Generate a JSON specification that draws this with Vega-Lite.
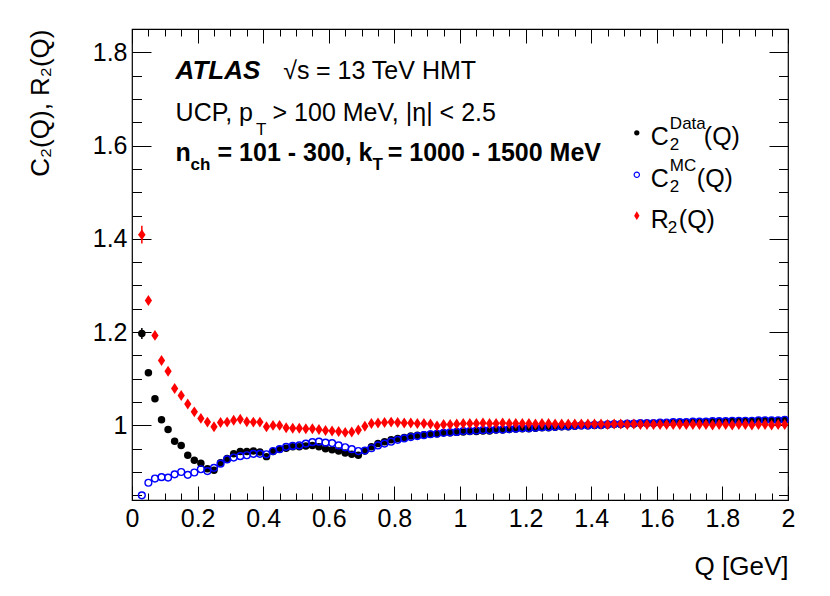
{
  "$schema": "https://vega.github.io/schema/vega-lite/v6.json",
  "width": 656,
  "height": 471,
  "autosize": {"type": "none"},
  "padding": {"left": 132, "top": 29, "right": 42, "bottom": 96},
  "background": "white",
  "config": {
    "view": {"stroke": "black", "strokeWidth": 1.2},
    "axis": {
      "domain": false, "grid": false, "tickColor": "black", "tickWidth": 1,
      "labelFont": "Liberation Sans", "labelFontSize": 25, "labelColor": "black",
      "labelFlush": false, "labelOverlap": false,
      "titleFont": "Liberation Sans", "titleFontSize": 26, "titleFontWeight": "normal", "titleColor": "black"
    }
  },
  "datasets": {
    "pts": [
      {"set":"data","Q":0.03,"val":1.197},{"set":"data","Q":0.05,"val":1.113},{"set":"data","Q":0.07,"val":1.057},{"set":"data","Q":0.09,"val":1.012},
      {"set":"data","Q":0.11,"val":0.991},{"set":"data","Q":0.13,"val":0.966},{"set":"data","Q":0.15,"val":0.957},{"set":"data","Q":0.17,"val":0.936},
      {"set":"data","Q":0.19,"val":0.925},{"set":"data","Q":0.21,"val":0.919},{"set":"data","Q":0.23,"val":0.907},{"set":"data","Q":0.25,"val":0.904},
      {"set":"data","Q":0.27,"val":0.920},{"set":"data","Q":0.29,"val":0.929},{"set":"data","Q":0.31,"val":0.939},{"set":"data","Q":0.33,"val":0.944},
      {"set":"data","Q":0.35,"val":0.944},{"set":"data","Q":0.37,"val":0.945},{"set":"data","Q":0.39,"val":0.943},{"set":"data","Q":0.41,"val":0.933},
      {"set":"data","Q":0.43,"val":0.944},{"set":"data","Q":0.45,"val":0.949},{"set":"data","Q":0.47,"val":0.951},{"set":"data","Q":0.49,"val":0.954},
      {"set":"data","Q":0.51,"val":0.954},{"set":"data","Q":0.53,"val":0.956},{"set":"data","Q":0.55,"val":0.957},{"set":"data","Q":0.57,"val":0.954},
      {"set":"data","Q":0.59,"val":0.950},{"set":"data","Q":0.61,"val":0.948},{"set":"data","Q":0.63,"val":0.945},{"set":"data","Q":0.65,"val":0.941},
      {"set":"data","Q":0.67,"val":0.938},{"set":"data","Q":0.69,"val":0.936},{"set":"data","Q":0.71,"val":0.945},{"set":"data","Q":0.73,"val":0.954},
      {"set":"data","Q":0.75,"val":0.961},{"set":"data","Q":0.77,"val":0.965},{"set":"data","Q":0.79,"val":0.969},{"set":"data","Q":0.81,"val":0.972},
      {"set":"data","Q":0.83,"val":0.974},{"set":"data","Q":0.85,"val":0.977},{"set":"data","Q":0.87,"val":0.979},{"set":"data","Q":0.89,"val":0.980},
      {"set":"data","Q":0.91,"val":0.981},{"set":"data","Q":0.93,"val":0.982},{"set":"data","Q":0.95,"val":0.984},{"set":"data","Q":0.97,"val":0.984},
      {"set":"data","Q":0.99,"val":0.985},{"set":"data","Q":1.01,"val":0.986},{"set":"data","Q":1.03,"val":0.987},{"set":"data","Q":1.05,"val":0.987},
      {"set":"data","Q":1.07,"val":0.988},{"set":"data","Q":1.09,"val":0.988},{"set":"data","Q":1.11,"val":0.990},{"set":"data","Q":1.13,"val":0.990},
      {"set":"data","Q":1.15,"val":0.991},{"set":"data","Q":1.17,"val":0.992},{"set":"data","Q":1.19,"val":0.993},{"set":"data","Q":1.21,"val":0.993},
      {"set":"data","Q":1.23,"val":0.994},{"set":"data","Q":1.25,"val":0.995},{"set":"data","Q":1.27,"val":0.995},{"set":"data","Q":1.29,"val":0.996},
      {"set":"data","Q":1.31,"val":0.997},{"set":"data","Q":1.33,"val":0.997},{"set":"data","Q":1.35,"val":0.998},{"set":"data","Q":1.37,"val":0.999},
      {"set":"data","Q":1.39,"val":0.999},{"set":"data","Q":1.41,"val":1.000},{"set":"data","Q":1.43,"val":1.000},{"set":"data","Q":1.45,"val":1.001},
      {"set":"data","Q":1.47,"val":1.002},{"set":"data","Q":1.49,"val":1.002},{"set":"data","Q":1.51,"val":1.003},{"set":"data","Q":1.53,"val":1.003},
      {"set":"data","Q":1.55,"val":1.004},{"set":"data","Q":1.57,"val":1.004},{"set":"data","Q":1.59,"val":1.004},{"set":"data","Q":1.61,"val":1.005},
      {"set":"data","Q":1.63,"val":1.005},{"set":"data","Q":1.65,"val":1.006},{"set":"data","Q":1.67,"val":1.006},{"set":"data","Q":1.69,"val":1.006},
      {"set":"data","Q":1.71,"val":1.007},{"set":"data","Q":1.73,"val":1.007},{"set":"data","Q":1.75,"val":1.007},{"set":"data","Q":1.77,"val":1.008},
      {"set":"data","Q":1.79,"val":1.008},{"set":"data","Q":1.81,"val":1.008},{"set":"data","Q":1.83,"val":1.009},{"set":"data","Q":1.85,"val":1.009},
      {"set":"data","Q":1.87,"val":1.009},{"set":"data","Q":1.89,"val":1.009},{"set":"data","Q":1.91,"val":1.010},{"set":"data","Q":1.93,"val":1.010},
      {"set":"data","Q":1.95,"val":1.010},{"set":"data","Q":1.97,"val":1.010},{"set":"data","Q":1.99,"val":1.011},

      {"set":"mc","Q":0.03,"val":0.850},{"set":"mc","Q":0.05,"val":0.877},{"set":"mc","Q":0.07,"val":0.886},{"set":"mc","Q":0.09,"val":0.889},
      {"set":"mc","Q":0.11,"val":0.888},{"set":"mc","Q":0.13,"val":0.895},{"set":"mc","Q":0.15,"val":0.900},{"set":"mc","Q":0.17,"val":0.894},
      {"set":"mc","Q":0.19,"val":0.899},{"set":"mc","Q":0.21,"val":0.906},{"set":"mc","Q":0.23,"val":0.902},{"set":"mc","Q":0.25,"val":0.909},
      {"set":"mc","Q":0.27,"val":0.918},{"set":"mc","Q":0.29,"val":0.927},{"set":"mc","Q":0.31,"val":0.931},{"set":"mc","Q":0.33,"val":0.934},
      {"set":"mc","Q":0.35,"val":0.936},{"set":"mc","Q":0.37,"val":0.939},{"set":"mc","Q":0.39,"val":0.939},{"set":"mc","Q":0.41,"val":0.938},
      {"set":"mc","Q":0.43,"val":0.945},{"set":"mc","Q":0.45,"val":0.949},{"set":"mc","Q":0.47,"val":0.954},{"set":"mc","Q":0.49,"val":0.956},
      {"set":"mc","Q":0.51,"val":0.957},{"set":"mc","Q":0.53,"val":0.961},{"set":"mc","Q":0.55,"val":0.964},{"set":"mc","Q":0.57,"val":0.965},
      {"set":"mc","Q":0.59,"val":0.963},{"set":"mc","Q":0.61,"val":0.962},{"set":"mc","Q":0.63,"val":0.957},{"set":"mc","Q":0.65,"val":0.953},
      {"set":"mc","Q":0.67,"val":0.949},{"set":"mc","Q":0.69,"val":0.945},{"set":"mc","Q":0.71,"val":0.946},{"set":"mc","Q":0.73,"val":0.951},
      {"set":"mc","Q":0.75,"val":0.957},{"set":"mc","Q":0.77,"val":0.961},{"set":"mc","Q":0.79,"val":0.965},{"set":"mc","Q":0.81,"val":0.969},
      {"set":"mc","Q":0.83,"val":0.972},{"set":"mc","Q":0.85,"val":0.975},{"set":"mc","Q":0.87,"val":0.977},{"set":"mc","Q":0.89,"val":0.979},
      {"set":"mc","Q":0.91,"val":0.981},{"set":"mc","Q":0.93,"val":0.982},{"set":"mc","Q":0.95,"val":0.984},{"set":"mc","Q":0.97,"val":0.985},
      {"set":"mc","Q":0.99,"val":0.986},{"set":"mc","Q":1.01,"val":0.988},{"set":"mc","Q":1.03,"val":0.988},{"set":"mc","Q":1.05,"val":0.989},
      {"set":"mc","Q":1.07,"val":0.990},{"set":"mc","Q":1.09,"val":0.990},{"set":"mc","Q":1.11,"val":0.991},{"set":"mc","Q":1.13,"val":0.991},
      {"set":"mc","Q":1.15,"val":0.992},{"set":"mc","Q":1.17,"val":0.993},{"set":"mc","Q":1.19,"val":0.994},{"set":"mc","Q":1.21,"val":0.994},
      {"set":"mc","Q":1.23,"val":0.995},{"set":"mc","Q":1.25,"val":0.996},{"set":"mc","Q":1.27,"val":0.996},{"set":"mc","Q":1.29,"val":0.997},
      {"set":"mc","Q":1.31,"val":0.998},{"set":"mc","Q":1.33,"val":0.998},{"set":"mc","Q":1.35,"val":0.999},{"set":"mc","Q":1.37,"val":1.000},
      {"set":"mc","Q":1.39,"val":1.000},{"set":"mc","Q":1.41,"val":1.001},{"set":"mc","Q":1.43,"val":1.001},{"set":"mc","Q":1.45,"val":1.002},
      {"set":"mc","Q":1.47,"val":1.003},{"set":"mc","Q":1.49,"val":1.003},{"set":"mc","Q":1.51,"val":1.004},{"set":"mc","Q":1.53,"val":1.004},
      {"set":"mc","Q":1.55,"val":1.005},{"set":"mc","Q":1.57,"val":1.005},{"set":"mc","Q":1.59,"val":1.005},{"set":"mc","Q":1.61,"val":1.006},
      {"set":"mc","Q":1.63,"val":1.006},{"set":"mc","Q":1.65,"val":1.007},{"set":"mc","Q":1.67,"val":1.007},{"set":"mc","Q":1.69,"val":1.007},
      {"set":"mc","Q":1.71,"val":1.008},{"set":"mc","Q":1.73,"val":1.008},{"set":"mc","Q":1.75,"val":1.008},{"set":"mc","Q":1.77,"val":1.009},
      {"set":"mc","Q":1.79,"val":1.009},{"set":"mc","Q":1.81,"val":1.009},{"set":"mc","Q":1.83,"val":1.010},{"set":"mc","Q":1.85,"val":1.010},
      {"set":"mc","Q":1.87,"val":1.010},{"set":"mc","Q":1.89,"val":1.010},{"set":"mc","Q":1.91,"val":1.011},{"set":"mc","Q":1.93,"val":1.011},
      {"set":"mc","Q":1.95,"val":1.011},{"set":"mc","Q":1.97,"val":1.011},{"set":"mc","Q":1.99,"val":1.012},

      {"set":"r2","Q":0.03,"val":1.409},{"set":"r2","Q":0.05,"val":1.268},{"set":"r2","Q":0.07,"val":1.193},{"set":"r2","Q":0.09,"val":1.139},
      {"set":"r2","Q":0.11,"val":1.116},{"set":"r2","Q":0.13,"val":1.079},{"set":"r2","Q":0.15,"val":1.064},{"set":"r2","Q":0.17,"val":1.046},
      {"set":"r2","Q":0.19,"val":1.029},{"set":"r2","Q":0.21,"val":1.015},{"set":"r2","Q":0.23,"val":1.007},{"set":"r2","Q":0.25,"val":0.997},
      {"set":"r2","Q":0.27,"val":1.006},{"set":"r2","Q":0.29,"val":1.007},{"set":"r2","Q":0.31,"val":1.011},{"set":"r2","Q":0.33,"val":1.013},
      {"set":"r2","Q":0.35,"val":1.008},{"set":"r2","Q":0.37,"val":1.007},{"set":"r2","Q":0.39,"val":1.007},{"set":"r2","Q":0.41,"val":0.997},
      {"set":"r2","Q":0.43,"val":1.000},{"set":"r2","Q":0.45,"val":1.000},{"set":"r2","Q":0.47,"val":0.995},{"set":"r2","Q":0.49,"val":0.994},
      {"set":"r2","Q":0.51,"val":0.994},{"set":"r2","Q":0.53,"val":0.993},{"set":"r2","Q":0.55,"val":0.993},{"set":"r2","Q":0.57,"val":0.991},
      {"set":"r2","Q":0.59,"val":0.989},{"set":"r2","Q":0.61,"val":0.988},{"set":"r2","Q":0.63,"val":0.987},{"set":"r2","Q":0.65,"val":0.985},
      {"set":"r2","Q":0.67,"val":0.986},{"set":"r2","Q":0.69,"val":0.990},{"set":"r2","Q":0.71,"val":0.998},{"set":"r2","Q":0.73,"val":1.004},
      {"set":"r2","Q":0.75,"val":1.005},{"set":"r2","Q":0.77,"val":1.006},{"set":"r2","Q":0.79,"val":1.007},{"set":"r2","Q":0.81,"val":1.006},
      {"set":"r2","Q":0.83,"val":1.005},{"set":"r2","Q":0.85,"val":1.005},{"set":"r2","Q":0.87,"val":1.004},{"set":"r2","Q":0.89,"val":1.004},
      {"set":"r2","Q":0.91,"val":1.003},{"set":"r2","Q":0.93,"val":0.999},{"set":"r2","Q":0.95,"val":1.002},{"set":"r2","Q":0.97,"val":1.002},
      {"set":"r2","Q":0.99,"val":1.003},{"set":"r2","Q":1.01,"val":1.004},{"set":"r2","Q":1.03,"val":1.004},{"set":"r2","Q":1.05,"val":1.004},
      {"set":"r2","Q":1.07,"val":1.005},{"set":"r2","Q":1.09,"val":1.004},{"set":"r2","Q":1.11,"val":1.004},{"set":"r2","Q":1.13,"val":1.005},
      {"set":"r2","Q":1.15,"val":1.004},{"set":"r2","Q":1.17,"val":1.004},{"set":"r2","Q":1.19,"val":1.004},{"set":"r2","Q":1.21,"val":1.004},
      {"set":"r2","Q":1.23,"val":1.003},{"set":"r2","Q":1.25,"val":1.004},{"set":"r2","Q":1.27,"val":1.004},{"set":"r2","Q":1.29,"val":1.003},
      {"set":"r2","Q":1.31,"val":1.003},{"set":"r2","Q":1.33,"val":1.003},{"set":"r2","Q":1.35,"val":1.003},{"set":"r2","Q":1.37,"val":1.003},
      {"set":"r2","Q":1.39,"val":1.003},{"set":"r2","Q":1.41,"val":1.003},{"set":"r2","Q":1.43,"val":1.003},{"set":"r2","Q":1.45,"val":1.002},
      {"set":"r2","Q":1.47,"val":1.003},{"set":"r2","Q":1.49,"val":1.003},{"set":"r2","Q":1.51,"val":1.002},{"set":"r2","Q":1.53,"val":1.003},
      {"set":"r2","Q":1.55,"val":1.002},{"set":"r2","Q":1.57,"val":1.002},{"set":"r2","Q":1.59,"val":1.002},{"set":"r2","Q":1.61,"val":1.002},
      {"set":"r2","Q":1.63,"val":1.002},{"set":"r2","Q":1.65,"val":1.002},{"set":"r2","Q":1.67,"val":1.002},{"set":"r2","Q":1.69,"val":1.002},
      {"set":"r2","Q":1.71,"val":1.002},{"set":"r2","Q":1.73,"val":1.002},{"set":"r2","Q":1.75,"val":1.002},{"set":"r2","Q":1.77,"val":1.001},
      {"set":"r2","Q":1.79,"val":1.002},{"set":"r2","Q":1.81,"val":1.002},{"set":"r2","Q":1.83,"val":1.001},{"set":"r2","Q":1.85,"val":1.002},
      {"set":"r2","Q":1.87,"val":1.002},{"set":"r2","Q":1.89,"val":1.001},{"set":"r2","Q":1.91,"val":1.002},{"set":"r2","Q":1.93,"val":1.002},
      {"set":"r2","Q":1.95,"val":1.001},{"set":"r2","Q":1.97,"val":1.002},{"set":"r2","Q":1.99,"val":1.002}
    ],
    "errs": [
      {"set":"data","Q":0.03,"val":1.197,"err":0.012,"dq":0.01},
      {"set":"r2","Q":0.03,"val":1.409,"err":0.019,"dq":0.01}
    ],
    "leg": [
      {"set":"data","x":1.539,"y":1.6274},
      {"set":"mc","x":1.539,"y":1.5375},
      {"set":"r2","x":1.539,"y":1.4497}
    ],
    "txtAtlas": [{"x":0.133,"y":1.743,"t":"ATLAS"}],
    "txtMain": [
      {"x":0.461,"y":1.743,"t":"√s"},
      {"x":0.561,"y":1.743,"t":"= 13 TeV HMT"},
      {"x":0.133,"y":1.6531,"t":"UCP, p"},
      {"x":0.4285,"y":1.6531,"t":"> 100 MeV, |η| < 2.5"},
      {"x":1.5818,"y":1.6017,"t":"C"},
      {"x":1.7434,"y":1.6017,"t":"(Q)"},
      {"x":1.5818,"y":1.5118,"t":"C"},
      {"x":1.7221,"y":1.5118,"t":"(Q)"},
      {"x":1.5818,"y":1.424,"t":"R"},
      {"x":1.6672,"y":1.424,"t":"(Q)"}
    ],
    "txtSmall": [
      {"x":0.378,"y":1.6231,"t":"T"},
      {"x":1.6398,"y":1.636,"t":"Data"},
      {"x":1.6398,"y":1.5895,"t":"2"},
      {"x":1.6398,"y":1.546,"t":"MC"},
      {"x":1.6398,"y":1.4996,"t":"2"},
      {"x":1.6336,"y":1.4118,"t":"2"}
    ],
    "txtBold": [
      {"x":0.133,"y":1.5675,"t":"n"},
      {"x":0.2608,"y":1.5675,"t":"= 101 - 300, k"},
      {"x":0.7795,"y":1.5675,"t":"= 1000 - 1500 MeV"}
    ],
    "txtBoldSmall": [
      {"x":0.1785,"y":1.5471,"t":"ch"},
      {"x":0.7333,"y":1.5471,"t":"T"}
    ]
  },
  "layer": [
    {
      "data": {"name": "errs"},
      "mark": {"type": "errorbar", "thickness": 1.5},
      "encoding": {
        "x": {"field": "Q", "type": "quantitative", "scale": {"domain": [0, 2], "nice": false, "zero": false},
              "axis": {"orient": "top", "values": [0.05,0.1,0.15,0.25,0.3,0.35,0.45,0.5,0.55,0.65,0.7,0.75,0.85,0.9,0.95,1.05,1.1,1.15,1.25,1.3,1.35,1.45,1.5,1.55,1.65,1.7,1.75,1.85,1.9,1.95], "tickSize": -7, "labels": false, "title": null}},
        "y": {"field": "val", "type": "quantitative", "scale": {"domain": [0.84, 1.85], "nice": false, "zero": false},
              "axis": {"orient": "right", "values": [0.85,0.9,0.95,1.05,1.1,1.15,1.25,1.3,1.35,1.45,1.5,1.55,1.65,1.7,1.75,1.85], "tickSize": -9.5, "labels": false, "title": null}},
        "yError": {"field": "err"},
        "color": {"field": "set", "type": "nominal", "scale": {"domain": ["data", "mc", "r2"], "range": ["#000000", "#0000ff", "#ff0000"]}, "legend": null}
      }
    },
    {
      "data": {"name": "errs"},
      "mark": {"type": "errorbar", "thickness": 1.5},
      "encoding": {
        "x": {"field": "Q", "type": "quantitative", "axis": null},
        "xError": {"field": "dq"},
        "y": {"field": "val", "type": "quantitative", "axis": null},
        "color": {"field": "set", "type": "nominal", "legend": null}
      }
    },
    {
      "data": {"name": "pts"},
      "transform": [{"filter": "datum.set == 'data'"}],
      "mark": {"type": "point", "shape": "circle", "filled": true, "color": "#000000", "size": 56, "opacity": 1},
      "encoding": {
        "x": {"field": "Q", "type": "quantitative", "scale": {"domain": [0, 2], "nice": false, "zero": false},
              "axis": {"orient": "bottom", "values": [0,0.2,0.4,0.6,0.8,1,1.2,1.4,1.6,1.8,2], "format": "~g", "tickSize": -14, "labelPadding": 20,
                       "title": "Q [GeV]", "titleAnchor": "end", "titleAlign": "right", "titleX": 656, "titleY": 74, "titleBaseline": "alphabetic"}},
        "y": {"field": "val", "type": "quantitative", "scale": {"domain": [0.84, 1.85], "nice": false, "zero": false},
              "axis": {"orient": "left", "values": [1,1.2,1.4,1.6,1.8], "format": "~g", "tickSize": -19, "labelPadding": 24,
                       "title": "C₂(Q), R₂(Q)", "titleAngle": -90, "titleAnchor": "end", "titleAlign": "right", "titleX": -84, "titleY": 0, "titleBaseline": "alphabetic"}}
      }
    },
    {
      "data": {"name": "pts"},
      "transform": [{"filter": "datum.set == 'mc'"}],
      "mark": {"type": "point", "shape": "circle", "filled": false, "color": "#0000ff", "size": 46, "strokeWidth": 1.4, "opacity": 1},
      "encoding": {
        "x": {"field": "Q", "type": "quantitative",
              "axis": {"orient": "bottom", "values": [0.05,0.1,0.15,0.25,0.3,0.35,0.45,0.5,0.55,0.65,0.7,0.75,0.85,0.9,0.95,1.05,1.1,1.15,1.25,1.3,1.35,1.45,1.5,1.55,1.65,1.7,1.75,1.85,1.9,1.95], "tickSize": -7, "labels": false, "title": null}},
        "y": {"field": "val", "type": "quantitative",
              "axis": {"orient": "left", "values": [0.85,0.9,0.95,1.05,1.1,1.15,1.25,1.3,1.35,1.45,1.5,1.55,1.65,1.7,1.75,1.85], "tickSize": -9.5, "labels": false, "title": null}}
      }
    },
    {
      "data": {"name": "pts"},
      "transform": [{"filter": "datum.set == 'r2'"}],
      "mark": {"type": "point", "shape": "M0,-1L0.66,0L0,1L-0.66,0Z", "filled": true, "color": "#ff0000", "size": 120, "opacity": 1},
      "encoding": {
        "x": {"field": "Q", "type": "quantitative",
              "axis": {"orient": "top", "values": [0,0.2,0.4,0.6,0.8,1,1.2,1.4,1.6,1.8,2], "tickSize": -14, "labels": false, "title": null}},
        "y": {"field": "val", "type": "quantitative",
              "axis": {"orient": "right", "values": [1,1.2,1.4,1.6,1.8], "tickSize": -19, "labels": false, "title": null}}
      }
    },
    {
      "data": {"name": "leg"},
      "transform": [{"filter": "datum.set == 'data'"}],
      "mark": {"type": "point", "shape": "circle", "filled": true, "color": "#000000", "size": 28, "opacity": 1},
      "encoding": {"x": {"field": "x", "type": "quantitative", "axis": null}, "y": {"field": "y", "type": "quantitative", "axis": null}}
    },
    {
      "data": {"name": "leg"},
      "transform": [{"filter": "datum.set == 'mc'"}],
      "mark": {"type": "point", "shape": "circle", "filled": false, "color": "#0000ff", "size": 28, "strokeWidth": 1.2, "opacity": 1},
      "encoding": {"x": {"field": "x", "type": "quantitative", "axis": null}, "y": {"field": "y", "type": "quantitative", "axis": null}}
    },
    {
      "data": {"name": "leg"},
      "transform": [{"filter": "datum.set == 'r2'"}],
      "mark": {"type": "point", "shape": "M0,-1L0.62,0L0,1L-0.62,0Z", "filled": true, "color": "#ff0000", "size": 75, "opacity": 1},
      "encoding": {"x": {"field": "x", "type": "quantitative", "axis": null}, "y": {"field": "y", "type": "quantitative", "axis": null}}
    },
    {
      "data": {"name": "txtAtlas"},
      "mark": {"type": "text", "align": "left", "baseline": "alphabetic", "font": "Liberation Sans", "fontSize": 26, "fontWeight": "bold", "fontStyle": "italic", "color": "black"},
      "encoding": {"x": {"field": "x", "type": "quantitative", "axis": null}, "y": {"field": "y", "type": "quantitative", "axis": null}, "text": {"field": "t"}}
    },
    {
      "data": {"name": "txtMain"},
      "mark": {"type": "text", "align": "left", "baseline": "alphabetic", "font": "Liberation Sans", "fontSize": 25, "color": "black"},
      "encoding": {"x": {"field": "x", "type": "quantitative", "axis": null}, "y": {"field": "y", "type": "quantitative", "axis": null}, "text": {"field": "t"}}
    },
    {
      "data": {"name": "txtSmall"},
      "mark": {"type": "text", "align": "left", "baseline": "alphabetic", "font": "Liberation Sans", "fontSize": 17, "color": "black"},
      "encoding": {"x": {"field": "x", "type": "quantitative", "axis": null}, "y": {"field": "y", "type": "quantitative", "axis": null}, "text": {"field": "t"}}
    },
    {
      "data": {"name": "txtBold"},
      "mark": {"type": "text", "align": "left", "baseline": "alphabetic", "font": "Liberation Sans", "fontSize": 25, "fontWeight": "bold", "color": "black"},
      "encoding": {"x": {"field": "x", "type": "quantitative", "axis": null}, "y": {"field": "y", "type": "quantitative", "axis": null}, "text": {"field": "t"}}
    },
    {
      "data": {"name": "txtBoldSmall"},
      "mark": {"type": "text", "align": "left", "baseline": "alphabetic", "font": "Liberation Sans", "fontSize": 17, "fontWeight": "bold", "color": "black"},
      "encoding": {"x": {"field": "x", "type": "quantitative", "axis": null}, "y": {"field": "y", "type": "quantitative", "axis": null}, "text": {"field": "t"}}
    }
  ],
  "resolve": {"axis": {"x": "independent", "y": "independent"}}
}
